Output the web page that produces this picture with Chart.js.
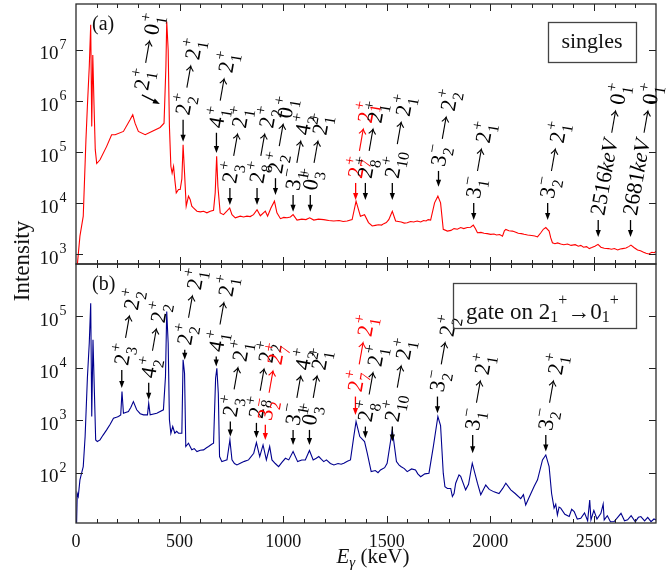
<!DOCTYPE html>
<html>
<head>
<meta charset="utf-8">
<script src="https://cdn.jsdelivr.net/npm/chart.js@4.4.1/dist/chart.umd.min.js"></script>
<style>
    html, body { margin: 0; padding: 0; background: #fff; }
    #wrap { position: relative; width: 671px; height: 573px; }
    canvas { position: absolute; left: 0; top: 0; }
</style>
</head>
<body>
<div id="wrap">
    <canvas id="gated" width="671" height="573"></canvas>
    <canvas id="singles" width="671" height="573"></canvas>
</div>
<script>
// (a) singles spectrum, energy in keV / counts
const energyA = [6, 19, 35, 48, 55, 64, 71, 76, 81, 87, 93, 100, 116, 148, 172, 189, 229, 261, 274, 285, 301, 334, 366, 406, 425, 434, 438, 445, 451, 458, 464, 471, 477, 484, 495, 503, 511, 517, 524, 532, 543, 551, 559, 567, 584, 600, 616, 632, 648, 664, 672, 679, 685, 696, 712, 728, 742, 753, 769, 793, 809, 825, 841, 857, 874, 890, 914, 925, 941, 958, 970, 987, 1003, 1019, 1035, 1048, 1067, 1090, 1110, 1128, 1148, 1170, 1196, 1220, 1244, 1270, 1290, 1309, 1333, 1352, 1373, 1393, 1412, 1430, 1445, 1460, 1475, 1486, 1498, 1510, 1527, 1543, 1556, 1570, 1585, 1599, 1615, 1630, 1647, 1664, 1678, 1690, 1700, 1712, 1731, 1747, 1760, 1773, 1793, 1810, 1825, 1841, 1857, 1872, 1889, 1905, 1918, 1928, 1938, 1955, 1970, 1985, 2002, 2018, 2030, 2045, 2059, 2068, 2075, 2090, 2107, 2120, 2135, 2150, 2163, 2180, 2200, 2215, 2228, 2244, 2256, 2268, 2284, 2292, 2300, 2312, 2325, 2340, 2355, 2373, 2390, 2410, 2425, 2437, 2450, 2465, 2478, 2490, 2505, 2520, 2534, 2550, 2570, 2585, 2599, 2615, 2627, 2639, 2655, 2668, 2679, 2695, 2711, 2725, 2740, 2752, 2765, 2780, 2792, 2800];
const countsA = [600, 2280, 5600, 1.75e5, 7.9e5, 4.7e6, 3.1e7, 3.2e5, 8e6, 8.4e5, 1.12e5, 6e4, 7.1e4, 1.3e5, 2.2e5, 2.2e5, 2.55e5, 4.3e5, 5.4e5, 3.7e5, 2.55e5, 2.2e5, 2.55e5, 3.05e5, 3.7e5, 4.7e6, 3.6e7, 1e7, 3.2e5, 5.3e4, 3.9e4, 5.3e4, 2.9e4, 1.6e4, 1.86e4, 1.86e4, 3e4, 1.4e5, 3.9e4, 8.8e3, 1.38e4, 1.19e4, 8.8e3, 8.1e3, 7e3, 6.8e3, 7e3, 6.5e3, 7e3, 7.3e3, 1.6e4, 8.3e4, 2.16e4, 6.5e3, 6e3, 7e3, 8.1e3, 6e3, 5.2e3, 5.6e3, 5.4e3, 5.6e3, 5.5e3, 6e3, 7.5e3, 5.7e3, 7e3, 5.6e3, 8.1e3, 1.1e4, 6.5e3, 5e3, 5.3e3, 5.2e3, 5.4e3, 6e3, 4.7e3, 4.9e3, 4.8e3, 5.2e3, 4.7e3, 4.9e3, 4.8e3, 4.6e3, 4.5e3, 4.6e3, 4.4e3, 4.5e3, 4.8e3, 1.1e4, 5.6e3, 6e3, 4.2e3, 3.6e3, 3.7e3, 3.8e3, 3.75e3, 4e3, 4.2e3, 4.8e3, 7e3, 4.5e3, 4.4e3, 4.3e3, 4.1e3, 4.15e3, 4.4e3, 4.3e3, 4.5e3, 4.3e3, 4.6e3, 4.5e3, 4.8e3, 4.7e3, 1.02e4, 1.38e4, 1.02e4, 3.1e3, 2.86e3, 2.95e3, 3.2e3, 3.1e3, 3.36e3, 3.2e3, 3.36e3, 3.4e3, 3.74e3, 3.2e3, 2.65e3, 2.7e3, 2.6e3, 2.55e3, 2.47e3, 2.5e3, 2.4e3, 2.45e3, 2.28e3, 2.9e3, 3.08e3, 2.9e3, 2.86e3, 2.75e3, 2.6e3, 2.55e3, 2.47e3, 2.4e3, 2.35e3, 2.3e3, 2.2e3, 2.65e3, 3.1e3, 3.36e3, 2.86e3, 2.1e3, 1.69e3, 1.62e3, 1.68e3, 1.6e3, 1.55e3, 1.6e3, 1.5e3, 1.55e3, 1.45e3, 1.5e3, 1.38e3, 1.42e3, 1.3e3, 1.36e3, 1.45e3, 1.57e3, 1.38e3, 1.32e3, 1.3e3, 1.26e3, 1.3e3, 1.22e3, 1.28e3, 1.3e3, 1.33e3, 1.42e3, 1.52e3, 1.35e3, 1.22e3, 1.18e3, 1.1e3, 1.05e3, 1.02e3, 1.1e3, 1.08e3, 1.15e3];

// (b) spectrum gated on 2+1 -> 0+1
const energyB = [3, 6, 11, 19, 27, 35, 44, 55, 64, 71, 76, 82, 89, 95, 103, 116, 130, 148, 165, 181, 195, 205, 216, 222, 229, 253, 265, 277, 293, 310, 326, 345, 351, 358, 390, 422, 432, 438, 445, 451, 458, 467, 477, 486, 495, 511, 517, 524, 530, 543, 559, 571, 584, 600, 616, 630, 640, 655, 664, 674, 680, 687, 693, 704, 716, 729, 743, 753, 765, 777, 793, 813, 833, 858, 871, 887, 903, 919, 935, 946, 962, 978, 995, 1011, 1027, 1048, 1070, 1090, 1107, 1127, 1145, 1160, 1172, 1185, 1196, 1209, 1228, 1245, 1265, 1280, 1293, 1310, 1325, 1341, 1352, 1370, 1393, 1406, 1425, 1445, 1458, 1470, 1490, 1502, 1527, 1547, 1560, 1570, 1585, 1599, 1620, 1639, 1650, 1664, 1684, 1704, 1725, 1747, 1760, 1773, 1781, 1793, 1809, 1817, 1825, 1833, 1849, 1857, 1881, 1895, 1913, 1938, 1954, 1978, 1995, 2018, 2042, 2060, 2075, 2099, 2120, 2147, 2160, 2171, 2185, 2196, 2212, 2228, 2252, 2268, 2284, 2296, 2308, 2316, 2324, 2332, 2340, 2360, 2381, 2393, 2405, 2420, 2437, 2455, 2470, 2480, 2486, 2500, 2515, 2534, 2545, 2550, 2565, 2580, 2598, 2615, 2631, 2648, 2663, 2680, 2700, 2715, 2727, 2745, 2760, 2776, 2790, 2800];
const countsB = [11, 40, 35, 73, 98, 131, 492, 6.5e3, 3.0e4, 1.76e5, 1.19e3, 3.5e4, 3.3e3, 425, 395, 425, 520, 660, 850, 1.1e3, 1.15e3, 1.19e3, 1.28e3, 3.58e3, 1.38e3, 1.48e3, 1.8e3, 2.3e3, 1.6e3, 1.35e3, 1.28e3, 1.28e3, 2.14e3, 1.28e3, 1.38e3, 1.6e3, 6.95e3, 1.22e5, 3.0e4, 1.03e3, 570, 765, 570, 620, 570, 570, 1.45e4, 8e3, 317, 367, 274, 290, 254, 270, 274, 300, 317, 350, 367, 6.5e3, 1e4, 3.3e3, 204, 163, 170, 176, 425, 176, 150, 141, 152, 165, 176, 236, 378, 204, 341, 176, 317, 176, 150, 131, 160, 189, 176, 254, 163, 175, 176, 266, 176, 190, 204, 180, 163, 176, 150, 141, 150, 145, 152, 165, 176, 492, 955, 492, 395, 236, 105, 110, 100, 113, 125, 152, 660, 163, 140, 130, 120, 105, 118, 113, 95, 84, 95, 98, 317, 1.19e3, 800, 98, 54, 50, 50, 35, 40, 63, 91, 85, 47, 60, 152, 63, 38, 58, 48, 43, 40, 50, 63, 47, 40, 32, 38, 24, 32, 40, 55, 73, 176, 219, 131, 40, 21, 25, 15.6, 22, 21, 16, 14.5, 20, 18, 13, 13.4, 17, 12, 30, 12.5, 19, 13, 16.7, 25, 12.5, 15, 11.5, 11.6, 14, 16.7, 12, 12.5, 15, 11.5, 14, 14.5, 12, 14, 11.6, 13, 12.5];

const xTickValues = [0, 500, 1000, 1500, 2000, 2500];
const decadesA = [3, 4, 5, 6, 7];
const decadesB = [2, 3, 4, 5];

// transition labels: arrow tip (energy, counts), arrow tail (energy, counts), text
const labelEnergyA = [405, 517, 678, 743, 874, 963, 1048, 1131, 1350, 1397, 1527, 1750, 1920, 2277, 2521, 2677];
const labelTailEnergyA = [318, 517, 678, 743, 874, 963, 1048, 1131, 1350, 1397, 1527, 1750, 1920, 2277, 2521, 2677];
const labelTipA = [8.8e5, 1.6e5, 9.6e4, 9.3e3, 9.3e3, 1.45e4, 6.8e3, 6.8e3, 1.16e4, 1.16e4, 1.16e4, 2.1e4, 4.7e3, 4.7e3, 2.2e3, 2.2e3];
const labelTailA = [1.32e6, 4.3e5, 2.4e5, 2.0e4, 2.0e4, 3.1e4, 1.45e4, 1.45e4, 2.5e4, 2.5e4, 2.5e4, 4.3e4, 1.01e4, 1.01e4, 4.7e3, 4.7e3];
const labelTextA = ['2_1^+ → 0_1^+', '2_2^+ → 2_1^+', '4_1^+ → 2_1^+', '2_3^+ → 2_1^+', '2_8^+ → 2_2^+', '2_2^+ → 0_1^+', '3_1^- → 4_2^+', '0_3^+ → 2_1^+', '2_7^+ → 2_1^+', '2_8^+ → 2_1^+', '2_10^+ → 2_1^+', '3_2^- → 2_2^+', '3_1^- → 2_1^+', '3_2^- → 2_1^+', '2516keV → 0_1^+', '2681keV → 0_1^+'];
const redA = [8];

const labelEnergyB = [221, 351, 525, 677, 745, 871, 914, 1048, 1127, 1349, 1397, 1527, 1745, 1915, 2268];
const labelTipB = [4.2e3, 2.5e3, 1.45e4, 1.08e4, 492, 464, 425, 341, 341, 1.28e3, 458, 395, 1.38e3, 236, 254];
const labelTailB = [9.3e3, 5.25e3, 2.25e4, 1.67e4, 953, 900, 824, 660, 660, 2.87e3, 764, 764, 2.87e3, 530, 530];
const labelTextB = ['2_3^+ → 2_2^+', '4_2^+ → 2_2^+', '2_2^+ → 2_1^+', '4_1^+ → 2_1^+', '2_3^+ → 2_1^+', '2_8^+ → 2_2^+', '3_2^- → 2_7^+', '3_1^- → 4_2^+', '0_3^+ → 2_1^+', '2_7^+ → 2_1^+', '2_8^+ → 2_1^+', '2_10^+ → 2_1^+', '3_2^- → 2_2^+', '3_1^- → 2_1^+', '3_2^- → 2_1^+'];
const redB = [6, 9];

const FONT = '"Liberation Serif", "DejaVu Serif", serif';
const RED = '#ff0000';
const BLUE = '#00008e';
const LABEL_SIZE = 22;

function line(ctx, x1, y1, x2, y2) {
    ctx.beginPath();
    ctx.moveTo(x1, y1);
    ctx.lineTo(x2, y2);
    ctx.stroke();
}

function arrow(ctx, x1, y1, x2, y2, col) {
    const a = Math.atan2(y2 - y1, x2 - x1), L = 7, W = 2.6;
    const c = Math.cos(a), s = Math.sin(a);
    ctx.save();
    ctx.strokeStyle = col;
    ctx.fillStyle = col;
    ctx.lineWidth = 1.3;
    line(ctx, x1, y1, x2 - L * 0.8 * c, y2 - L * 0.8 * s);
    ctx.beginPath();
    ctx.moveTo(x2, y2);
    ctx.lineTo(x2 - L * c + W * s, y2 - L * s - W * c);
    ctx.lineTo(x2 - L * c - W * s, y2 - L * s + W * c);
    ctx.closePath();
    ctx.fill();
    ctx.restore();
}

// draws "2_1^+ → 0_1^+" style text starting at the origin, centred on y = 0
function levelText(ctx, text, size, col) {
    const base = size * 0.33;
    let x = 0;
    text.split(' ').forEach(tok => {
        ctx.font = size + 'px ' + FONT;
        if (tok === '→') {
            // thin TeX style arrow
            const w = size * 1.0;
            x += size * 0.3;
            ctx.strokeStyle = col;
            ctx.lineWidth = 1.1;
            line(ctx, x, 0, x + w, 0);
            ctx.beginPath();
            ctx.moveTo(x + w - size * 0.22, -size * 0.16);
            ctx.quadraticCurveTo(x + w - size * 0.06, -size * 0.02, x + w, 0);
            ctx.quadraticCurveTo(x + w - size * 0.06, size * 0.02, x + w - size * 0.22, size * 0.16);
            ctx.stroke();
            x += w + size * 0.3;
            return;
        }
        const m = tok.match(/^([^_^]+)(?:_([^^]+))?(?:\^(.+))?$/);
        const parts = m[1].match(/^(\d*)(.*)$/);
        ctx.fillText(parts[1], x, base);
        x += ctx.measureText(parts[1]).width;
        if (parts[2]) {
            ctx.font = 'italic ' + size + 'px ' + FONT;
            ctx.fillText(parts[2], x, base);
            x += ctx.measureText(parts[2]).width;
        }
        ctx.font = (size * 0.72) + 'px ' + FONT;
        let w = 0;
        if (m[2]) {
            ctx.fillText(m[2], x + 1, base + size * 0.28);
            w = ctx.measureText(m[2]).width + 1;
        }
        if (m[3]) {
            const sp = m[3] === '-' ? '−' : m[3];
            ctx.fillText(sp, x + 1, base - size * 0.46);
            w = Math.max(w, ctx.measureText(sp).width + 1);
        }
        x += w;
    });
}

function drawLabels(chart, energy, tailEnergy, tip, tail, texts, red) {
    const ctx = chart.ctx, xs = chart.scales.x, ys = chart.scales.y;
    energy.forEach((e, i) => {
        const col = red.includes(i) ? RED : '#000';
        const x1 = xs.getPixelForValue(tailEnergy[i]), y1 = ys.getPixelForValue(tail[i]);
        const x2 = xs.getPixelForValue(e), y2 = ys.getPixelForValue(tip[i]);
        arrow(ctx, x1, y1, x2, y2, col);
        ctx.save();
        ctx.translate(x1 - 1, y1 - 5);
        ctx.rotate(-80 * Math.PI / 180);
        ctx.fillStyle = col;
        ctx.textBaseline = 'alphabetic';
        levelText(ctx, texts[i], LABEL_SIZE, col);
        ctx.restore();
    });
}

function panelPlugin(o) {
    return {
        id: 'panel' + o.letter,
        afterDraw(chart) {
            const ctx = chart.ctx, a = chart.chartArea, xs = chart.scales.x, ys = chart.scales.y;
            ctx.save();
            ctx.strokeStyle = '#222';
            ctx.lineWidth = 1;
            for (let e = 100; e < 2800; e += 100) {
                const x = Math.round(xs.getPixelForValue(e)) + 0.5;
                const len = e % 500 === 0 ? 7 : 4;
                line(ctx, x, a.bottom, x, a.bottom - len);
                line(ctx, x, a.top, x, a.top + len);
            }
            o.decades.forEach(d => {
                const y = Math.round(ys.getPixelForValue(Math.pow(10, d))) + 0.5;
                line(ctx, a.left, y, a.left + 7, y);
                line(ctx, a.right, y, a.right - 7, y);
            });
            ctx.lineWidth = 1.3;
            ctx.strokeStyle = '#2a2a2a';
            ctx.strokeRect(a.left, a.top, a.right - a.left, a.bottom - a.top);

            // y tick labels 10^n
            ctx.fillStyle = '#111';
            o.decades.forEach(d => {
                const y = ys.getPixelForValue(Math.pow(10, d));
                ctx.font = '19px ' + FONT;
                ctx.textAlign = 'right';
                ctx.fillText('10', 58.5, y + 9.5);
                ctx.font = '14px ' + FONT;
                ctx.textAlign = 'left';
                ctx.fillText(String(d), 59.5, y - 1);
            });

            // panel letter
            ctx.textAlign = 'left';
            ctx.font = '20px ' + FONT;
            ctx.fillText('(' + o.letter + ')', 92, a.top + 26);

            drawLabels(chart, o.energy, o.tailEnergy, o.tip, o.tail, o.texts, o.red);
            o.extra(ctx, chart);
            ctx.restore();
        }
    };
}

function makeChart(id, energy, counts, color, yMin, yMax, pad, plugin) {
    return new Chart(document.getElementById(id), {
        type: 'line',
        data: {
            datasets: [{
                data: energy.map((e, i) => ({ x: e, y: counts[i] })),
                borderColor: color,
                borderWidth: 1.1,
                pointRadius: 0,
                tension: 0,
                fill: false
            }]
        },
        options: {
            responsive: false,
            animation: false,
            devicePixelRatio: 1,
            events: [],
            layout: { padding: pad },
            plugins: { legend: { display: false }, tooltip: { enabled: false } },
            scales: {
                x: { type: 'linear', min: 0, max: 2800, display: false },
                y: { type: 'logarithmic', min: yMin, max: yMax, display: false }
            }
        },
        plugins: [plugin]
    });
}

makeChart('singles', energyA, countsA, RED, 649, 7.94e7,
    { left: 76, right: 15, top: 4, bottom: 309 },
    panelPlugin({
        letter: 'a', decades: decadesA,
        energy: labelEnergyA, tailEnergy: labelTailEnergyA, tip: labelTipA, tail: labelTailA,
        texts: labelTextA, red: redA,
        extra(ctx) {
            ctx.lineWidth = 1.3;
            ctx.strokeStyle = '#444';
            ctx.strokeRect(548.5, 22.5, 88, 40);
            ctx.fillStyle = '#111';
            ctx.font = '22px ' + FONT;
            ctx.textAlign = 'center';
            ctx.fillText('singles', 592, 48);
        }
    }));

makeChart('gated', energyB, countsB, BLUE, 10.9, 9.9e5,
    { left: 76, right: 15, top: 264, bottom: 50 },
    panelPlugin({
        letter: 'b', decades: decadesB,
        energy: labelEnergyB, tailEnergy: labelEnergyB, tip: labelTipB, tail: labelTailB,
        texts: labelTextB, red: redB,
        extra(ctx, chart) {
            const xs = chart.scales.x;
            ctx.lineWidth = 1.3;
            ctx.strokeStyle = '#444';
            ctx.strokeRect(453.5, 283.5, 183, 45);
            ctx.fillStyle = '#111';
            ctx.textAlign = 'left';
            let x = 466;
            const yb = 319, big = '23px ' + FONT, small = '16px ' + FONT;
            const put = (t, f, dy) => { ctx.font = f; ctx.fillText(t, x, yb + dy); x += ctx.measureText(t).width; };
            put('gate on 2', big, 0); put('1', small, 3); put('+', small, -14);
            put('→', big, 0); put('0', big, 0); put('1', small, 3); put('+', small, -14);

            // x tick labels
            ctx.font = '18px ' + FONT;
            ctx.textAlign = 'center';
            xTickValues.forEach(v => ctx.fillText(String(v), xs.getPixelForValue(v), 547));

            // x axis title
            ctx.textAlign = 'left';
            ctx.font = 'italic 21px ' + FONT;
            const wE = ctx.measureText('E').width;
            ctx.font = 'italic 15px ' + FONT;
            const wG = ctx.measureText('γ').width;
            ctx.font = '21px ' + FONT;
            const wK = ctx.measureText(' (keV)').width;
            let tx = 373 - (wE + wG + wK) / 2;
            ctx.font = 'italic 21px ' + FONT;
            ctx.fillText('E', tx, 563); tx += wE;
            ctx.font = 'italic 15px ' + FONT;
            ctx.fillText('γ', tx, 567); tx += wG;
            ctx.font = '21px ' + FONT;
            ctx.fillText(' (keV)', tx, 563);

            // y axis title
            ctx.save();
            ctx.translate(29, 261);
            ctx.rotate(-Math.PI / 2);
            ctx.textAlign = 'center';
            ctx.font = '23px ' + FONT;
            ctx.fillText('Intensity', 0, 0);
            ctx.restore();
        }
    }));
</script>
</body>
</html>
